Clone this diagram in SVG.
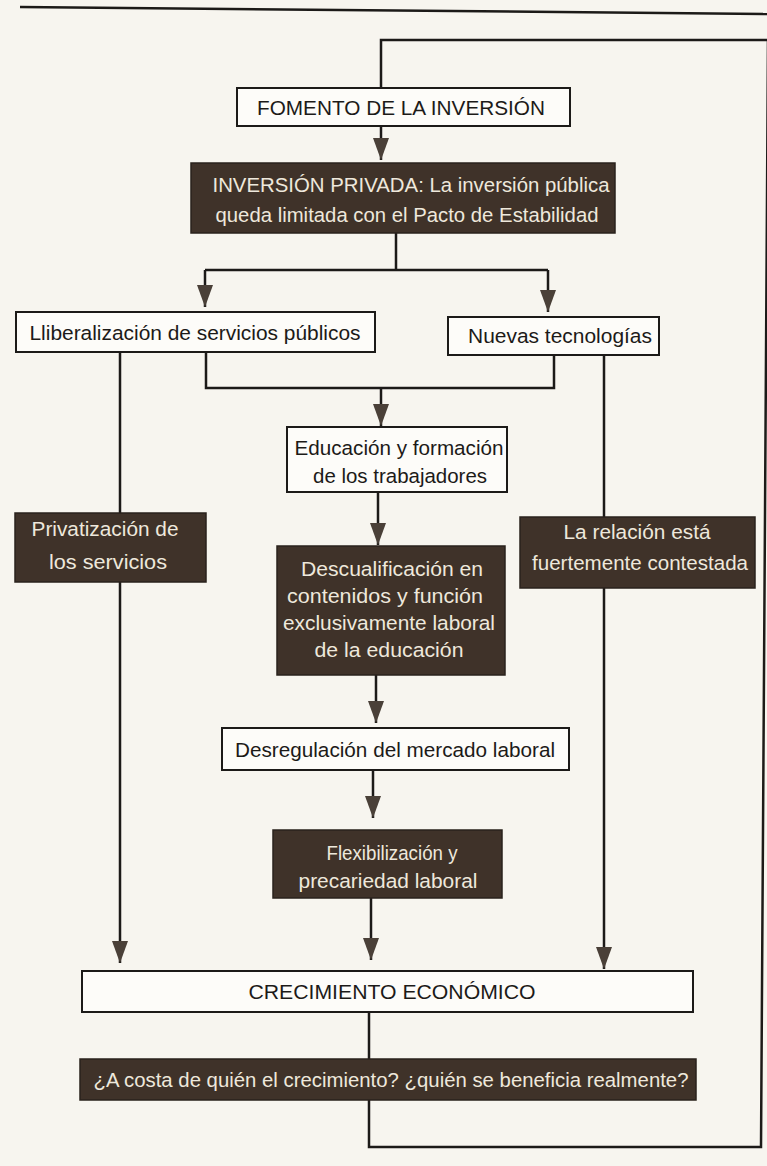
<svg xmlns="http://www.w3.org/2000/svg" width="767" height="1166" viewBox="0 0 767 1166">
<defs>
<marker id="ah" viewBox="0 0 22 16" refX="22" refY="8" markerWidth="22" markerHeight="16" markerUnits="userSpaceOnUse" orient="auto">
<path d="M0,0 L22,8 L0,16 Z" fill="#4a4038"/>
</marker>
<style>
.ln{fill:none;stroke:#1c1a18;stroke-width:2.5}
.ar{fill:none;stroke:#1c1a18;stroke-width:2.5;marker-end:url(#ah)}
.wb{fill:#fdfcf9;stroke:#1c1a18;stroke-width:2}
.db{fill:#3f3229;stroke:#2a221c;stroke-width:1.5}
.t{font-family:"Liberation Sans",Arial,sans-serif;font-size:20.5px;fill:#1c1a18;text-anchor:middle}
.tw{font-family:"Liberation Sans",Arial,sans-serif;font-size:20.5px;fill:#eee8dc;text-anchor:middle}
</style>
</defs>
<rect x="0" y="0" width="767" height="1166" fill="#f7f5ef"/>
<path class="ln" d="M20,7 L767,14"/>
<g id="connectors">
<path class="ln" d="M369,1012 V1147 H761 L768,40 H381 V88"/>
<path class="ar" d="M381,126 V160"/>
<path class="ln" d="M396,232 V270 M205,270 H548"/>
<path class="ar" d="M205,270 V307"/>
<path class="ar" d="M548,270 V312"/>
<path class="ln" d="M206,352 V388 H554 V355"/>
<path class="ar" d="M381,388 V426"/>
<path class="ar" d="M378,492 V545"/>
<path class="ar" d="M376,675 V723"/>
<path class="ar" d="M373,770 V818"/>
<path class="ar" d="M371,898 V960"/>
<path class="ar" d="M120,352 V963"/>
<path class="ar" d="M604,355 V969"/>
</g>
<g id="n1"><rect class="wb" x="237" y="88" width="333" height="38"/><text class="t" x="401" y="115" textLength="288" lengthAdjust="spacingAndGlyphs">FOMENTO DE LA INVERSIÓN</text></g>
<g id="n2"><rect class="db" x="191" y="163" width="424" height="70"/><text class="tw" x="411" y="192" textLength="397" lengthAdjust="spacingAndGlyphs">INVERSIÓN PRIVADA: La inversión pública</text><text class="tw" x="407" y="222" textLength="383" lengthAdjust="spacingAndGlyphs">queda limitada con el Pacto  de Estabilidad</text></g>
<g id="n3"><rect class="wb" x="16" y="312" width="359" height="40"/><text class="t" x="195" y="340" textLength="331" lengthAdjust="spacingAndGlyphs">Lliberalización de servicios públicos</text></g>
<g id="n4"><rect class="wb" x="448" y="317" width="211" height="38"/><text class="t" x="560" y="343" textLength="184" lengthAdjust="spacingAndGlyphs">Nuevas tecnologías</text></g>
<g id="n5"><rect class="wb" x="287" y="427" width="220" height="65"/><text class="t" x="399" y="455" textLength="209" lengthAdjust="spacingAndGlyphs">Educación y formación</text><text class="t" x="400" y="483" textLength="174" lengthAdjust="spacingAndGlyphs">de los trabajadores</text></g>
<g id="n6"><rect class="db" x="15" y="513" width="191" height="69"/><text class="tw" x="105" y="536" textLength="147" lengthAdjust="spacingAndGlyphs">Privatización de</text><text class="tw" x="108" y="569" textLength="118" lengthAdjust="spacingAndGlyphs">los servicios</text></g>
<g id="n7"><rect class="db" x="277" y="546" width="228" height="129"/><text class="tw" x="392" y="576" textLength="182" lengthAdjust="spacingAndGlyphs">Descualificación en</text><text class="tw" x="385" y="603" textLength="196" lengthAdjust="spacingAndGlyphs">contenidos y función</text><text class="tw" x="389" y="630" textLength="212" lengthAdjust="spacingAndGlyphs">exclusivamente laboral</text><text class="tw" x="389" y="657" textLength="149" lengthAdjust="spacingAndGlyphs">de la educación</text></g>
<g id="n8"><rect class="db" x="520" y="517" width="235" height="71"/><text class="tw" x="637" y="539" textLength="147" lengthAdjust="spacingAndGlyphs">La relación está</text><text class="tw" x="640" y="570" textLength="216" lengthAdjust="spacingAndGlyphs">fuertemente contestada</text></g>
<g id="n9"><rect class="wb" x="222" y="728" width="347" height="42"/><text class="t" x="395" y="757" textLength="320" lengthAdjust="spacingAndGlyphs">Desregulación del mercado laboral</text></g>
<g id="n10"><rect class="db" x="273" y="830" width="229" height="68"/><text class="tw" x="392" y="860" textLength="131" lengthAdjust="spacingAndGlyphs">Flexibilización y</text><text class="tw" x="388" y="888" textLength="179" lengthAdjust="spacingAndGlyphs">precariedad laboral</text></g>
<g id="n11"><rect class="wb" x="82" y="971" width="611" height="41"/><text class="t" x="392" y="999" textLength="287" lengthAdjust="spacingAndGlyphs">CRECIMIENTO ECONÓMICO</text></g>
<g id="n12"><rect class="db" x="80" y="1059" width="616" height="41"/><text class="tw" x="391" y="1087" textLength="595" lengthAdjust="spacingAndGlyphs">¿A costa de quién el crecimiento? ¿quién se beneficia realmente?</text></g>
</svg>
